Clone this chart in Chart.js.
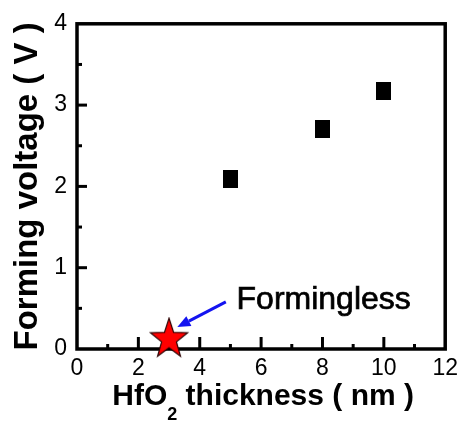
<!DOCTYPE html>
<html>
<head>
<meta charset="utf-8">
<script src="https://cdn.jsdelivr.net/npm/chart.js@4/dist/chart.umd.min.js"></script>
<style>
  html, body { margin: 0; padding: 0; background: #fff; }
  #c { display: block; }
</style>
</head>
<body>
<canvas id="c" width="464" height="421"></canvas>
<script>
// ---- data ----
const thicknessNm = [5, 8, 10];
const formingVoltage = [2.09, 2.71, 3.17];
const forminglessThickness = [3];
const forminglessVoltage = [0.12];
const xTickValues = [0, 2, 4, 6, 8, 10, 12];
const yTickValues = [0, 1, 2, 3, 4];
const yAxisTitle = 'Forming voltage ( V )';
const xTitleParts = ['HfO', '2', ' thickness ( nm )'];
const annotationText = 'Formingless';
const annotationAt = [5.2, 0.49];      // text anchor (data units)
const arrowFrom = [4.85, 0.58];        // arrow tail (data units)
const arrowTo = [3.27, 0.27];          // arrow head (data units)

const FONT = "'Liberation Sans', Arial, Helvetica, sans-serif";

// point images
function makeSquare() {
  const c = document.createElement('canvas');
  c.width = 15; c.height = 18;
  const g = c.getContext('2d');
  g.fillStyle = '#000';
  g.fillRect(0, 0, 15, 18);
  return c;
}
function makeStar() {
  const w = 42, h = 45;
  const c = document.createElement('canvas');
  c.width = w; c.height = h;
  const g = c.getContext('2d');
  const R = 19.5, r = R * 0.40;
  const cx = w / 2, cy = 22.5;
  const sy = 1.08;
  g.beginPath();
  for (let i = 0; i < 10; i++) {
    const rad = i % 2 === 0 ? R : r;
    const a = -Math.PI / 2 + i * Math.PI / 5;
    const px = cx + rad * Math.cos(a);
    const py = cy + rad * Math.sin(a) * sy;
    if (i === 0) g.moveTo(px, py); else g.lineTo(px, py);
  }
  g.closePath();
  g.fillStyle = '#ff0000';
  g.fill();
  g.lineWidth = 1.2;
  g.strokeStyle = '#2a0000';
  g.stroke();
  return c;
}

const frameTicks = {
  id: 'frameTicks',
  beforeDatasetsDraw(chart) {
    const { ctx, chartArea: a, scales: { x, y } } = chart;
    ctx.save();
    ctx.strokeStyle = '#000';
    ctx.lineCap = 'butt';
    // ticks (inward)
    ctx.lineWidth = 3;
    for (let v = 1; v < 12; v++) {
      const px = x.getPixelForValue(v);
      const len = v % 2 === 0 ? 12 : 5;
      ctx.beginPath();
      ctx.moveTo(px, a.bottom);
      ctx.lineTo(px, a.bottom - len);
      ctx.stroke();
    }
    for (let v = 0.5; v < 4; v += 0.5) {
      const py = y.getPixelForValue(v);
      const len = Number.isInteger(v) ? 10 : 5;
      ctx.beginPath();
      ctx.moveTo(a.left, py);
      ctx.lineTo(a.left + len, py);
      ctx.stroke();
    }
    // frame
    ctx.lineWidth = 3.5;
    ctx.lineJoin = 'miter';
    ctx.strokeRect(a.left, a.top, a.right - a.left, a.bottom - a.top);
    ctx.restore();
  },
  afterDraw(chart) {
    const { ctx, chartArea: a, scales: { x, y } } = chart;
    ctx.save();
    // arrow
    const x0 = x.getPixelForValue(arrowFrom[0]), y0 = y.getPixelForValue(arrowFrom[1]);
    const x1 = x.getPixelForValue(arrowTo[0]), y1 = y.getPixelForValue(arrowTo[1]);
    const ang = Math.atan2(y1 - y0, x1 - x0);
    const headLen = 13, headW = 5.5;
    const bx = x1 - headLen * Math.cos(ang), by = y1 - headLen * Math.sin(ang);
    ctx.strokeStyle = '#1414f0';
    ctx.fillStyle = '#1414f0';
    ctx.lineWidth = 3;
    ctx.beginPath();
    ctx.moveTo(x0, y0);
    ctx.lineTo(bx, by);
    ctx.stroke();
    ctx.beginPath();
    ctx.moveTo(x1, y1);
    ctx.lineTo(bx + headW * Math.sin(ang), by - headW * Math.cos(ang));
    ctx.lineTo(bx - headW * Math.sin(ang), by + headW * Math.cos(ang));
    ctx.closePath();
    ctx.fill();
    // annotation text
    ctx.fillStyle = '#000';
    ctx.strokeStyle = '#000';
    ctx.lineWidth = 0.7;
    ctx.font = '32px ' + FONT;
    ctx.textAlign = 'left';
    ctx.textBaseline = 'alphabetic';
    const tx = x.getPixelForValue(annotationAt[0]), ty = y.getPixelForValue(annotationAt[1]);
    ctx.fillText(annotationText, tx, ty);
    ctx.strokeText(annotationText, tx, ty);
    // x axis title with subscript
    const bigFont = 'bold 30px ' + FONT;
    const subFont = 'bold 18px ' + FONT;
    ctx.font = bigFont;
    const w0 = ctx.measureText(xTitleParts[0]).width;
    const w2 = ctx.measureText(xTitleParts[2]).width;
    ctx.font = subFont;
    const w1 = ctx.measureText(xTitleParts[1]).width;
    const total = w0 + w1 + w2;
    let sx = (a.left + a.right) / 2 - total / 2 + 2;
    const base = 405;
    ctx.font = bigFont;
    ctx.fillText(xTitleParts[0], sx, base);
    sx += w0;
    ctx.font = subFont;
    ctx.fillText(xTitleParts[1], sx, base + 15);
    sx += w1;
    ctx.font = bigFont;
    ctx.fillText(xTitleParts[2], sx, base);
    ctx.restore();
  }
};

new Chart(document.getElementById('c'), {
  type: 'scatter',
  data: {
    datasets: [
      {
        label: 'Forming voltage',
        data: thicknessNm.map((t, i) => ({ x: t, y: formingVoltage[i] })),
        pointStyle: makeSquare(),
        clip: false
      },
      {
        label: 'Formingless',
        data: forminglessThickness.map((t, i) => ({ x: t, y: forminglessVoltage[i] })),
        pointStyle: makeStar(),
        clip: false
      }
    ]
  },
  options: {
    responsive: false,
    devicePixelRatio: 1,
    animation: false,
    layout: { padding: { left: 0, top: 23, right: 16, bottom: 0 } },
    plugins: { legend: { display: false }, tooltip: { enabled: false } },
    scales: {
      x: {
        type: 'linear',
        min: 0, max: 12,
        afterBuildTicks: s => { s.ticks = xTickValues.map(v => ({ value: v })); },
        afterFit: s => { s.height = 72; },
        grid: { display: false, drawTicks: false },
        border: { display: false },
        ticks: { color: '#000', font: { family: FONT, size: 23 }, padding: 6, maxRotation: 0, autoSkip: false },
        title: { display: false }
      },
      y: {
        type: 'linear',
        min: 0, max: 4,
        afterBuildTicks: s => { s.ticks = yTickValues.map(v => ({ value: v })); },
        afterFit: s => { s.width = 77; },
        grid: { display: false, drawTicks: false },
        border: { display: false },
        ticks: { color: '#000', font: { family: FONT, size: 23 }, padding: 10, autoSkip: false },
        title: { display: true, text: yAxisTitle, color: '#000', font: { family: FONT, size: 33, weight: 'bold' }, padding: { top: 8, bottom: 0 } }
      }
    }
  },
  plugins: [frameTicks]
});
</script>
</body>
</html>
